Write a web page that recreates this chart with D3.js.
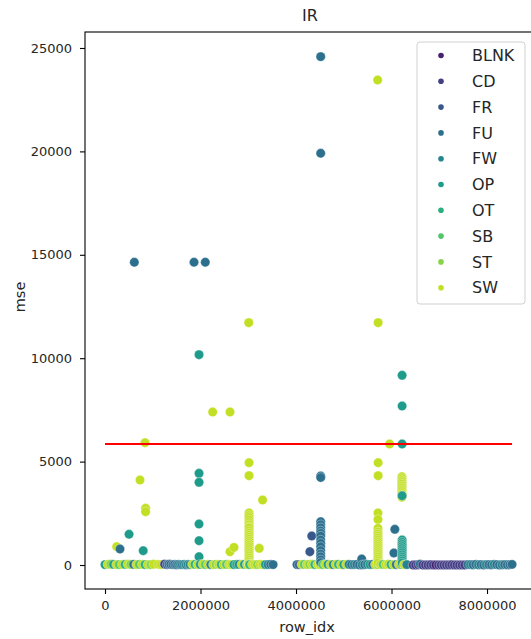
<!DOCTYPE html>
<html>
<head>
<meta charset="utf-8">
<script src="https://cdn.jsdelivr.net/npm/d3@7"></script>
<style>
  html, body { margin: 0; padding: 0; background: #fff; }
  svg { display: block; font-family: "DejaVu Sans", sans-serif; }
</style>
</head>
<body>
<svg id="chart" width="531" height="639"></svg>
<script>
// Categories in legend order
const categories = ["BLNK", "CD", "FR", "FU", "FW", "OP", "OT", "SB", "ST", "SW"];

// [row_idx, mse] per category
const BLNK = [[6930000, 0]];
const CD = [[1250000, 40], [6450000, 0], [6505000, 0], [6560000, 10], [6655000, 0], [6710000, 0],
  [6765000, 0], [6820000, 10], [6875000, 0], [6985000, 0], [7040000, 0], [7095000, 0], [7150000, 0],
  [7205000, 0], [7260000, 10], [7315000, 0], [7370000, 0], [7425000, 0], [7480000, 0], [7535000, 0]];
const FR = [[1380000, 30], [4070000, 20], [4290000, 643], [4330000, 1402]];
const FU = [[314000, 774], [600000, 30], [614000, 14640], [1300000, 20], [1340000, 40], [1420000, 20],
  [1460000, 30], [1500000, 10], [1540000, 30], [1620000, 20], [1864000, 14640], [2100000, 14640],
  [3470000, 30], [3520000, 20], [4020000, 20], [4517000, 24580], [4517000, 19910], [4517000, 4304],
  [4517000, 4230], [4517000, 2094], [4517000, 1950], [4517000, 1804], [4517000, 1650], [4517000, 1533],
  [4517000, 1400], [4517000, 1209], [4517000, 1050], [4517000, 885], [4517000, 700], [4517000, 532],
  [4517000, 400], [4517000, 250], [4517000, 120], [5165000, 20], [5275000, 30], [5330000, 10],
  [5376000, 290], [5440000, 20], [5605000, 30], [6050000, 580], [6070000, 1726], [6100000, 20],
  [6600000, 40], [7600000, 20], [7710000, 10], [7765000, 30], [7875000, 20], [7930000, 0],
  [8040000, 20], [8095000, 10], [8205000, 20], [8260000, 0], [8370000, 20], [8425000, 10],
  [8480000, 20], [8524000, 30]];
const FW = [[1580000, 20], [1660000, 30], [1700000, 10], [1740000, 30], [1780000, 20], [2215000, 20],
  [2810000, 30], [3415000, 20], [4780000, 20], [5110000, 30], [5220000, 20], [5385000, 10],
  [5495000, 30], [6320000, 20], [7655000, 20], [7820000, 10], [7985000, 20], [8150000, 30], [8315000, 10]];
const OP = [[0, 20], [180000, 30], [503000, 1485], [800000, 691], [1969000, 10170], [1969000, 4434],
  [1969000, 3999], [1969000, 1983], [1969000, 1175], [1969000, 401], [1995000, 30], [2700000, 20],
  [2920000, 30], [3360000, 20], [4670000, 30], [5000000, 20], [5550000, 20], [6210000, 30],
  [6222000, 9173], [6222000, 7688], [6222000, 5851], [6222000, 3351], [6222000, 1209], [6222000, 1100],
  [6222000, 1000], [6222000, 900], [6222000, 800], [6222000, 700], [6222000, 600], [6222000, 500],
  [6222000, 400], [6222000, 300], [6222000, 200], [6222000, 100]];
const OT = [[420000, 30], [840000, 20], [1885000, 30], [2435000, 20], [2755000, 30], [3030000, 20],
  [4395000, 20], [4890000, 30], [5990000, 20]];
const SB = [[300000, 20], [720000, 30], [2105000, 20], [2545000, 30], [4175000, 30], [4560000, 20], [5825000, 30]];
const ST = [[120000, 40], [540000, 30], [960000, 20], [2325000, 30], [3195000, 20], [4285000, 30], [5715000, 20]];
const SW = [[60000, 30], [240000, 20], [245000, 885], [360000, 30], [480000, 40], [660000, 20],
  [733000, 4110], [780000, 30], [838000, 5914], [850000, 2742], [850000, 2578], [900000, 20],
  [1020000, 40], [1120000, 30], [1180000, 20], [1830000, 30], [1940000, 20], [2050000, 40],
  [2160000, 30], [2255000, 7398], [2270000, 20], [2380000, 30], [2490000, 20], [2600000, 30],
  [2618000, 7398], [2618000, 643], [2650000, 20], [2700000, 850], [2865000, 30], [2975000, 20],
  [3010000, 11717], [3016000, 4947], [3016000, 4319], [3016000, 2515], [3016000, 2400], [3016000, 2300],
  [3016000, 2176], [3016000, 2050], [3016000, 1950], [3016000, 1850], [3016000, 1789], [3016000, 1650],
  [3016000, 1548], [3016000, 1450], [3016000, 1350], [3016000, 1250], [3016000, 1150], [3016000, 1050],
  [3016000, 950], [3016000, 850], [3016000, 750], [3016000, 650], [3016000, 550], [3016000, 450],
  [3016000, 350], [3016000, 250], [3016000, 150], [3016000, 60], [3085000, 30], [3140000, 20],
  [3230000, 807], [3250000, 30], [3300000, 3143], [3305000, 20], [4120000, 30], [4230000, 20],
  [4340000, 40], [4450000, 30], [4505000, 20], [4615000, 30], [4725000, 20], [4835000, 30],
  [4945000, 20], [5055000, 30], [5660000, 20], [5710000, 23450], [5716000, 2515], [5716000, 2200],
  [5716000, 1775], [5716000, 1600], [5716000, 1500], [5716000, 1400], [5716000, 1300], [5716000, 1200],
  [5716000, 1100], [5716000, 1000], [5716000, 900], [5716000, 800], [5716000, 700], [5716000, 600],
  [5716000, 500], [5716000, 400], [5716000, 300], [5716000, 200], [5716000, 100], [5720000, 11717],
  [5720000, 4947], [5720000, 4319], [5770000, 30], [5880000, 20], [5935000, 40], [5960000, 5851],
  [6045000, 20], [6155000, 30], [6218000, 4270], [6218000, 4180], [6218000, 4090], [6218000, 4000],
  [6218000, 3910], [6218000, 3820], [6218000, 3730], [6218000, 3640], [6218000, 3550], [6218000, 3460],
  [6218000, 3370], [6218000, 3280], [6218000, 80], [6265000, 20]];

const seriesByCategory = { BLNK, CD, FR, FU, FW, OP, OT, SB, ST, SW };

// Threshold line
const thresholdValue = 5851;
const thresholdRange = [0, 8524000];

// Tick labels
const xTicks = [0, 2000000, 4000000, 6000000, 8000000];
const yTicks = [0, 5000, 10000, 15000, 20000, 25000];

const svg = d3.select("#chart");
const plot = { left: 85, right: 534, top: 32, bottom: 589 };

const x = d3.scaleLinear().domain([-419000, 8984000]).range([plot.left, plot.right]);
const y = d3.scaleLinear().domain([-1160, 25773]).range([plot.bottom, plot.top]);

// Viridis sampled like seaborn's discrete palette
const color = d3.scaleOrdinal()
  .domain(categories)
  .range(categories.map((c, i) => d3.interpolateViridis((i + 1) / (categories.length + 1))));

// Points drawn in row order
const points = [];
categories.forEach(c => seriesByCategory[c].forEach(([r, m]) => points.push({ cat: c, row: r, mse: m })));
points.sort((a, b) => a.row - b.row);

svg.append("g")
  .selectAll("circle")
  .data(points)
  .join("circle")
  .attr("cx", d => x(d.row))
  .attr("cy", d => y(d.mse))
  .attr("r", 4.7)
  .attr("fill", d => color(d.cat))
  .attr("stroke", "#fff")
  .attr("stroke-opacity", 0.7)
  .attr("stroke-width", 0.5);

// Red threshold line
svg.append("line")
  .attr("x1", x(thresholdRange[0]))
  .attr("x2", x(thresholdRange[1]))
  .attr("y1", y(thresholdValue))
  .attr("y2", y(thresholdValue))
  .attr("stroke", "red")
  .attr("stroke-width", 2);

// Frame
svg.append("rect")
  .attr("x", plot.left).attr("y", plot.top)
  .attr("width", plot.right - plot.left).attr("height", plot.bottom - plot.top)
  .attr("fill", "none").attr("stroke", "#000").attr("stroke-width", 1.1);

// Axes
const xAxis = svg.append("g")
  .attr("transform", `translate(0,${plot.bottom})`)
  .call(d3.axisBottom(x).tickValues(xTicks).tickFormat(d3.format("d")).tickSize(5).tickPadding(7));
const yAxis = svg.append("g")
  .attr("transform", `translate(${plot.left},0)`)
  .call(d3.axisLeft(y).tickValues(yTicks).tickFormat(d3.format("d")).tickSize(5).tickPadding(8));
[xAxis, yAxis].forEach(g => {
  g.select(".domain").remove();
  g.selectAll(".tick line").attr("stroke", "#000").attr("stroke-width", 1.1);
  g.selectAll(".tick text").attr("fill", "#262626").style("font-size", "13px")
    .style("font-family", "'DejaVu Sans', sans-serif");
});

// Titles
svg.append("text")
  .attr("x", 310).attr("y", 21)
  .attr("text-anchor", "middle")
  .attr("fill", "#262626")
  .style("font-size", "16px")
  .text("IR");
svg.append("text")
  .attr("x", 307).attr("y", 632)
  .attr("text-anchor", "middle")
  .attr("fill", "#262626")
  .style("font-size", "14.5px")
  .text("row_idx");
svg.append("text")
  .attr("transform", "translate(25,297) rotate(-90)")
  .attr("text-anchor", "middle")
  .attr("fill", "#262626")
  .style("font-size", "14.5px")
  .text("mse");

// Legend
const legend = svg.append("g");
legend.append("rect")
  .attr("x", 417).attr("y", 42).attr("width", 108).attr("height", 262).attr("rx", 3)
  .attr("fill", "#fff").attr("fill-opacity", 0.8)
  .attr("stroke", "#d0d0d0").attr("stroke-width", 1);
const items = legend.selectAll("g.item")
  .data(categories)
  .join("g")
  .attr("class", "item")
  .attr("transform", (d, i) => `translate(0,${55.5 + i * 25.8})`);
items.append("circle")
  .attr("cx", 441).attr("cy", 0).attr("r", 2.8)
  .attr("fill", d => color(d));
items.append("text")
  .attr("x", 472).attr("y", 0).attr("dy", "0.36em")
  .attr("fill", "#262626")
  .style("font-size", "16px")
  .text(d => d);
</script>
</body>
</html>
